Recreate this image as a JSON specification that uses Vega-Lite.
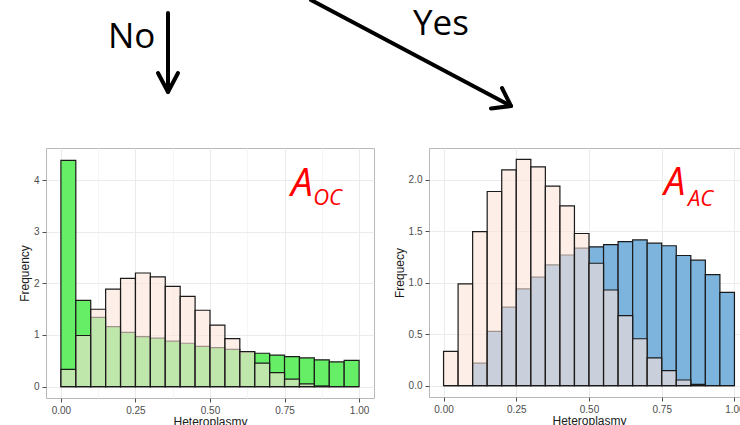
{
  "$schema": "https://vega.github.io/schema/vega-lite/v6.json",
  "background": "white",
  "padding": {"left": 17, "top": 0, "right": 0, "bottom": 0},
  "config": {
    "font": "Liberation Sans",
    "view": {"stroke": "#b8b8b8", "strokeWidth": 1},
    "axis": {
      "domain": false,
      "tickColor": "#4d4d4d",
      "tickSize": 4,
      "tickWidth": 1,
      "labelColor": "#4d4d4d",
      "labelFont": "Liberation Sans",
      "labelFontSize": 10,
      "labelPadding": 3,
      "titleFont": "Liberation Sans",
      "titleFontSize": 12,
      "titleFontWeight": "normal",
      "titleColor": "#1a1a1a",
      "titlePadding": 1,
      "gridWidth": 1
    }
  },
  "datasets": {
    "pink": [
      {"x0": 0.00, "x1": 0.05, "freq": 0.333},
      {"x0": 0.05, "x1": 0.10, "freq": 0.99},
      {"x0": 0.10, "x1": 0.15, "freq": 1.498},
      {"x0": 0.15, "x1": 0.20, "freq": 1.887},
      {"x0": 0.20, "x1": 0.25, "freq": 2.097},
      {"x0": 0.25, "x1": 0.30, "freq": 2.20},
      {"x0": 0.30, "x1": 0.35, "freq": 2.126},
      {"x0": 0.35, "x1": 0.40, "freq": 1.94},
      {"x0": 0.40, "x1": 0.45, "freq": 1.748},
      {"x0": 0.45, "x1": 0.50, "freq": 1.479},
      {"x0": 0.50, "x1": 0.55, "freq": 1.19},
      {"x0": 0.55, "x1": 0.60, "freq": 0.93},
      {"x0": 0.60, "x1": 0.65, "freq": 0.68},
      {"x0": 0.65, "x1": 0.70, "freq": 0.456},
      {"x0": 0.70, "x1": 0.75, "freq": 0.27},
      {"x0": 0.75, "x1": 0.80, "freq": 0.146},
      {"x0": 0.80, "x1": 0.85, "freq": 0.055},
      {"x0": 0.85, "x1": 0.90, "freq": 0.013},
      {"x0": 0.90, "x1": 0.95, "freq": 0},
      {"x0": 0.95, "x1": 1.00, "freq": 0}
    ],
    "green": [
      {"x0": 0.00, "x1": 0.05, "freq": 4.38},
      {"x0": 0.05, "x1": 0.10, "freq": 1.67},
      {"x0": 0.10, "x1": 0.15, "freq": 1.34},
      {"x0": 0.15, "x1": 0.20, "freq": 1.16},
      {"x0": 0.20, "x1": 0.25, "freq": 1.05},
      {"x0": 0.25, "x1": 0.30, "freq": 0.97},
      {"x0": 0.30, "x1": 0.35, "freq": 0.94},
      {"x0": 0.35, "x1": 0.40, "freq": 0.88},
      {"x0": 0.40, "x1": 0.45, "freq": 0.84},
      {"x0": 0.45, "x1": 0.50, "freq": 0.78},
      {"x0": 0.50, "x1": 0.55, "freq": 0.756},
      {"x0": 0.55, "x1": 0.60, "freq": 0.72},
      {"x0": 0.60, "x1": 0.65, "freq": 0.67},
      {"x0": 0.65, "x1": 0.70, "freq": 0.646},
      {"x0": 0.70, "x1": 0.75, "freq": 0.61},
      {"x0": 0.75, "x1": 0.80, "freq": 0.58},
      {"x0": 0.80, "x1": 0.85, "freq": 0.556},
      {"x0": 0.85, "x1": 0.90, "freq": 0.52},
      {"x0": 0.90, "x1": 0.95, "freq": 0.48},
      {"x0": 0.95, "x1": 1.00, "freq": 0.51}
    ],
    "blue": [
      {"x0": 0.00, "x1": 0.05, "freq": 0},
      {"x0": 0.05, "x1": 0.10, "freq": 0},
      {"x0": 0.10, "x1": 0.15, "freq": 0.22},
      {"x0": 0.15, "x1": 0.20, "freq": 0.527},
      {"x0": 0.20, "x1": 0.25, "freq": 0.764},
      {"x0": 0.25, "x1": 0.30, "freq": 0.94},
      {"x0": 0.30, "x1": 0.35, "freq": 1.055},
      {"x0": 0.35, "x1": 0.40, "freq": 1.175},
      {"x0": 0.40, "x1": 0.45, "freq": 1.27},
      {"x0": 0.45, "x1": 0.50, "freq": 1.337},
      {"x0": 0.50, "x1": 0.55, "freq": 1.35},
      {"x0": 0.55, "x1": 0.60, "freq": 1.37},
      {"x0": 0.60, "x1": 0.65, "freq": 1.40},
      {"x0": 0.65, "x1": 0.70, "freq": 1.417},
      {"x0": 0.70, "x1": 0.75, "freq": 1.385},
      {"x0": 0.75, "x1": 0.80, "freq": 1.36},
      {"x0": 0.80, "x1": 0.85, "freq": 1.265},
      {"x0": 0.85, "x1": 0.90, "freq": 1.22},
      {"x0": 0.90, "x1": 0.95, "freq": 1.08},
      {"x0": 0.95, "x1": 1.00, "freq": 0.906}
    ],
    "arrows": [
      {"x": 170, "y": 13, "x2": 170, "y2": 91},
      {"x": 160, "y": 73, "x2": 170, "y2": 92},
      {"x": 180, "y": 73, "x2": 170, "y2": 92},
      {"x": 313, "y": 0, "x2": 512, "y2": 105.5},
      {"x": 504, "y": 88, "x2": 513, "y2": 106},
      {"x": 493, "y": 108.5, "x2": 513, "y2": 106}
    ],
    "words": [
      {"t": "No", "x": 110, "y": 48},
      {"t": "Yes", "x": 415, "y": 35}
    ]
  },
  "spacing": 0,
  "vconcat": [
    {
      "width": 740,
      "height": 147,
      "view": {"stroke": null},
      "layer": [
        {
          "data": {"name": "arrows"},
          "mark": {"type": "rule", "color": "#000000", "strokeWidth": 4, "strokeCap": "round", "clip": true},
          "encoding": {
            "x": {"field": "x", "type": "quantitative", "scale": {"domain": [48, 788], "nice": false, "zero": false}, "axis": null},
            "y": {"field": "y", "type": "quantitative", "scale": {"domain": [0, 147], "nice": false, "zero": false, "reverse": true}, "axis": null},
            "x2": {"field": "x2"},
            "y2": {"field": "y2"}
          }
        },
        {
          "data": {"name": "words"},
          "mark": {"type": "text", "font": "Open Sans", "fontSize": 35, "align": "left", "baseline": "alphabetic", "color": "#000000"},
          "encoding": {
            "x": {"field": "x", "type": "quantitative"},
            "y": {"field": "y", "type": "quantitative"},
            "text": {"field": "t"}
          }
        }
      ]
    },
    {
      "spacing": 17,
      "hconcat": [
        {
          "width": 328,
          "height": 250,
          "layer": [
            {
              "data": {"name": "green"},
              "mark": {"type": "rect", "fill": "#66EE66", "stroke": "#1a1a1a", "strokeWidth": 1.2},
              "encoding": {
                "x": {
                  "field": "x0", "type": "quantitative",
                  "scale": {"domain": [-0.05, 1.05], "nice": false, "zero": false},
                  "axis": {
                    "title": "Heteroplasmy",
                    "values": [0, 0.125, 0.25, 0.375, 0.5, 0.625, 0.75, 0.875, 1],
                    "format": ".2f",
                    "labelExpr": "datum.value * 4 % 1 == 0 ? datum.label : ''",
                    "tickOpacity": {"condition": {"test": "datum.value * 4 % 1 == 0", "value": 1}, "value": 0},
                    "gridColor": {"condition": {"test": "datum.value * 4 % 1 == 0", "value": "#ebebeb"}, "value": "#f5f5f5"}
                  }
                },
                "x2": {"field": "x1"},
                "y": {
                  "field": "freq", "type": "quantitative",
                  "scale": {"domain": [-0.22, 4.62], "nice": false, "zero": false},
                  "axis": {
                    "title": "Frequency",
                    "titlePadding": 2,
                    "values": [0, 0.5, 1, 1.5, 2, 2.5, 3, 3.5, 4, 4.5],
                    "format": "d",
                    "labelExpr": "datum.value % 1 == 0 ? datum.label : ''",
                    "tickOpacity": {"condition": {"test": "datum.value % 1 == 0", "value": 1}, "value": 0},
                    "gridColor": {"condition": {"test": "datum.value % 1 == 0", "value": "#ebebeb"}, "value": "#f5f5f5"}
                  }
                },
                "y2": {"datum": 0}
              }
            },
            {
              "data": {"name": "pink"},
              "mark": {"type": "rect", "fill": "#FCE2D8", "fillOpacity": 0.6, "stroke": "#1a1a1a", "strokeWidth": 1.2},
              "encoding": {
                "x": {"field": "x0", "type": "quantitative"},
                "x2": {"field": "x1"},
                "y": {"field": "freq", "type": "quantitative"},
                "y2": {"datum": 0}
              }
            },
            {
              "data": {"values": [{}]},
              "mark": {"type": "text", "text": "A", "font": "Open Sans", "fontStyle": "italic", "fontSize": 39, "align": "left", "baseline": "alphabetic", "color": "#ff0000"},
              "encoding": {"x": {"datum": 0.772, "type": "quantitative"}, "y": {"datum": 3.70, "type": "quantitative"}}
            },
            {
              "data": {"values": [{}]},
              "mark": {"type": "text", "text": "OC", "font": "Open Sans", "fontStyle": "italic", "fontSize": 22, "align": "left", "baseline": "alphabetic", "color": "#ff0000"},
              "encoding": {"x": {"datum": 0.846, "type": "quantitative"}, "y": {"datum": 3.52, "type": "quantitative"}}
            }
          ]
        },
        {
          "width": 320,
          "height": 249,
          "layer": [
            {
              "data": {"name": "blue"},
              "mark": {"type": "rect", "fill": "#7DB4DE", "stroke": "#1a1a1a", "strokeWidth": 1.2},
              "encoding": {
                "x": {
                  "field": "x0", "type": "quantitative",
                  "scale": {"domain": [-0.05, 1.05], "nice": false, "zero": false},
                  "axis": {
                    "title": "Heteroplasmy",
                    "values": [0, 0.125, 0.25, 0.375, 0.5, 0.625, 0.75, 0.875, 1],
                    "format": ".2f",
                    "labelExpr": "datum.value * 4 % 1 == 0 ? datum.label : ''",
                    "tickOpacity": {"condition": {"test": "datum.value * 4 % 1 == 0", "value": 1}, "value": 0},
                    "gridColor": {"condition": {"test": "datum.value * 4 % 1 == 0", "value": "#ebebeb"}, "value": "#f5f5f5"}
                  }
                },
                "x2": {"field": "x1"},
                "y": {
                  "field": "freq", "type": "quantitative",
                  "scale": {"domain": [-0.11, 2.31], "nice": false, "zero": false},
                  "axis": {
                    "title": "Frequecy",
                    "titlePadding": 2,
                    "values": [0, 0.25, 0.5, 0.75, 1, 1.25, 1.5, 1.75, 2, 2.25],
                    "format": ".1f",
                    "labelExpr": "datum.value * 2 % 1 == 0 ? datum.label : ''",
                    "tickOpacity": {"condition": {"test": "datum.value * 2 % 1 == 0", "value": 1}, "value": 0},
                    "gridColor": {"condition": {"test": "datum.value * 2 % 1 == 0", "value": "#ebebeb"}, "value": "#f5f5f5"}
                  }
                },
                "y2": {"datum": 0}
              }
            },
            {
              "data": {"name": "pink"},
              "mark": {"type": "rect", "fill": "#FCE2D8", "fillOpacity": 0.6, "stroke": "#1a1a1a", "strokeWidth": 1.2},
              "encoding": {
                "x": {"field": "x0", "type": "quantitative"},
                "x2": {"field": "x1"},
                "y": {"field": "freq", "type": "quantitative"},
                "y2": {"datum": 0}
              }
            },
            {
              "data": {"values": [{}]},
              "mark": {"type": "text", "text": "A", "font": "Open Sans", "fontStyle": "italic", "fontSize": 38, "align": "left", "baseline": "alphabetic", "color": "#ff0000"},
              "encoding": {"x": {"datum": 0.758, "type": "quantitative"}, "y": {"datum": 1.857, "type": "quantitative"}}
            },
            {
              "data": {"values": [{}]},
              "mark": {"type": "text", "text": "AC", "font": "Open Sans", "fontStyle": "italic", "fontSize": 22, "align": "left", "baseline": "alphabetic", "color": "#ff0000"},
              "encoding": {"x": {"datum": 0.84, "type": "quantitative"}, "y": {"datum": 1.75, "type": "quantitative"}}
            }
          ]
        }
      ]
    }
  ]
}
